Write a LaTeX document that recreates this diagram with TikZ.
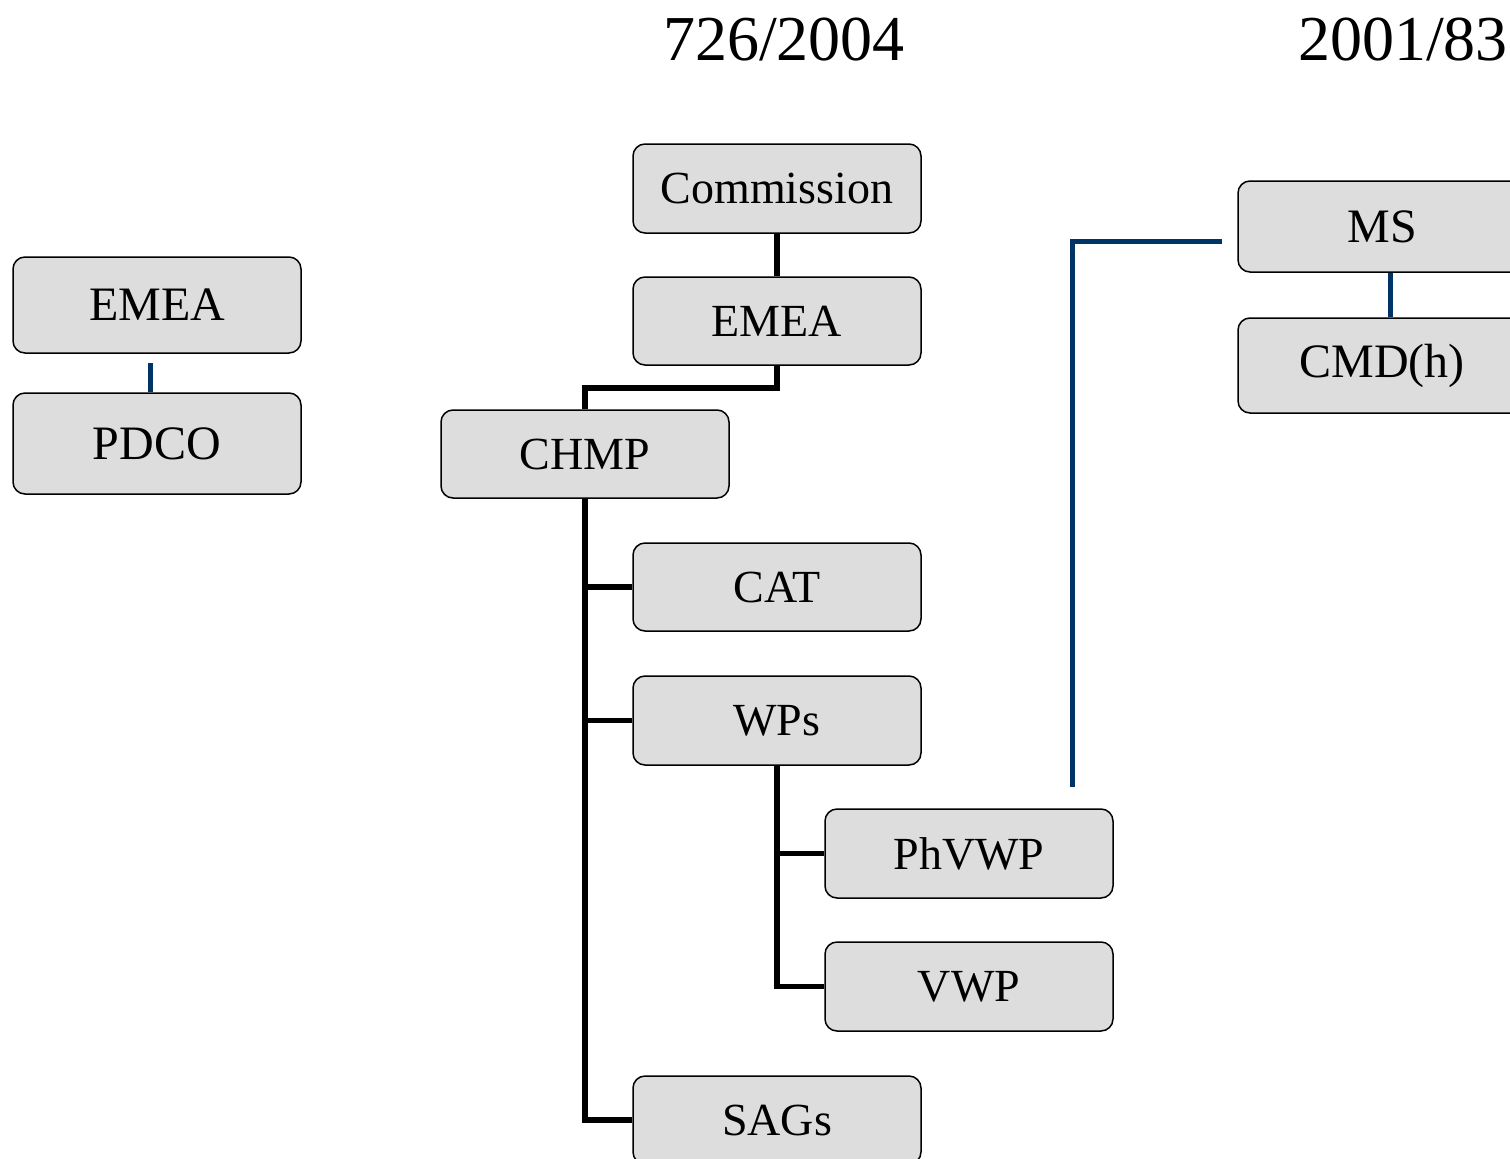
\documentclass[tikz,border=0pt]{standalone}
\usepackage{fontspec}
\setmainfont{Liberation Serif}
\definecolor{boxfill}{HTML}{DDDDDD}
\definecolor{linkblue}{HTML}{003366}
\begin{document}
\begin{tikzpicture}[x=1pt,y=-1pt,
  box/.style={draw=black, line width=1.5pt, fill=boxfill, rounded corners=12pt,
    minimum width=288pt, inner sep=0pt, font=\fontsize{46}{54}\selectfont},
  sidebox/.style={box, font=\fontsize{48}{56}\selectfont},
  blk/.style={draw=black, line width=5.5pt},
  blu/.style={draw=linkblue, line width=5pt},
  title/.style={font=\fontsize{64}{74}\selectfont, inner sep=0pt}]
\useasboundingbox (0,0) rectangle (1510,1159);
\clip (0,0) rectangle (1510,1159);
\fill[white] (0,0) rectangle (1510,1159);

\node[title] (t1) at (784,40) {726/2004};
\node[title] (t2) at (1403,40) {2001/83};

\node[box, minimum height=89pt] (comm) at (777,188.5) {Commission};
\node[box, minimum height=88pt] (emea) at (777,321) {EMEA};
\node[box, minimum height=88pt] (chmp) at (585,454) {CHMP};
\node[box, minimum height=88pt] (cat) at (777,587) {CAT};
\node[box, minimum height=89pt] (wps) at (777,720.5) {WPs};
\node[box, minimum height=89pt] (phvwp) at (969,853.5) {PhVWP};
\node[box, minimum height=89pt] (vwp) at (969,986.5) {VWP};
\node[box, minimum height=88pt] (sags) at (777,1120) {SAGs};

\node[sidebox, minimum height=96pt] (emeal) at (157,305) {EMEA};
\node[sidebox, minimum height=101pt] (pdco) at (157,443.5) {PDCO};

\node[sidebox, minimum height=91pt] (ms) at (1382,226.5) {MS};
\node[sidebox, minimum height=95pt] (cmd) at (1382,365.5) {CMD(h)};

% black connectors
\draw[blk] (comm.south) -- (emea.north);
\draw[blk] (emea.south) -- ++(0,22) -| (chmp.north);
\draw[blk] (chmp.south) |- (cat.west);
\draw[blk] (chmp.south) |- (wps.west);
\draw[blk] (chmp.south) |- (sags.west);
\draw[blk] (wps.south) |- (phvwp.west);
\draw[blk] (wps.south) |- (vwp.west);

% blue connectors
\coordinate (lt) at (150,363);
\draw[blu] (lt) -- (lt |- pdco.north);
\coordinate (mt) at (1390,272);
\draw[blu] (mt |- ms.south) -- (mt |- cmd.north);
\coordinate (a1) at (1222,241);
\coordinate (a2) at (1072,241);
\coordinate (a3) at (1072,787);
\draw[blu] (a1) -- (a2) -- (a3);
\end{tikzpicture}
\end{document}
